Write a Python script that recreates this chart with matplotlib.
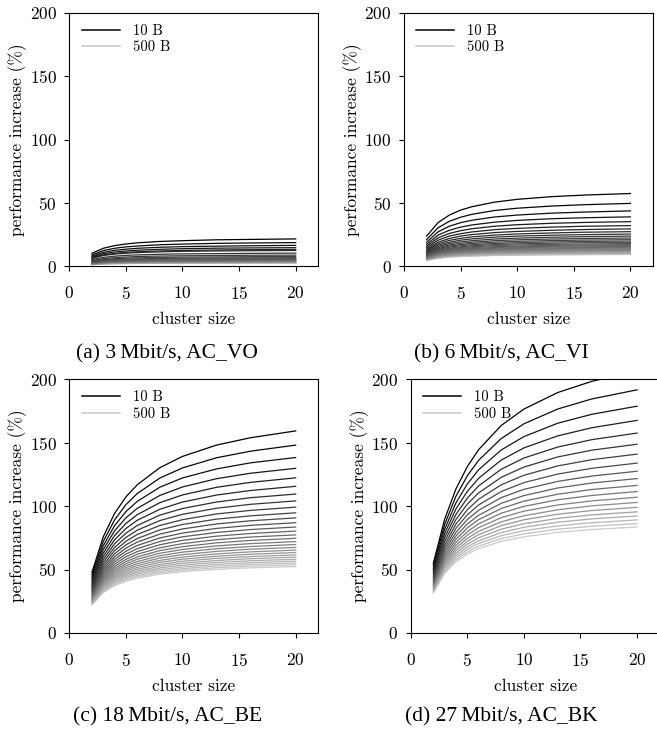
import matplotlib
matplotlib.use("Agg")
import matplotlib.pyplot as plt
from matplotlib.lines import Line2D

# cluster sizes sampled on the x axis
CLUSTER_SIZE = [2, 3, 4, 5, 6, 8, 10, 13, 16, 20]

# performance increase (%), one row per payload size, from 10 B (first) to 500 B (last)
VO_3MBIT = [
    [10.3, 14.2, 16.3, 17.6, 18.5, 19.6, 20.2, 20.9, 21.2, 21.6],
    [9.0, 12.4, 14.2, 15.3, 16.0, 17.0, 17.5, 18.1, 18.4, 18.7],
    [8.0, 11.0, 12.6, 13.5, 14.2, 15.0, 15.5, 15.9, 16.2, 16.5],
    [7.2, 9.9, 11.3, 12.1, 12.7, 13.4, 13.9, 14.3, 14.5, 14.7],
    [6.6, 9.0, 10.2, 11.0, 11.5, 12.1, 12.5, 12.9, 13.1, 13.3],
    [6.2, 8.5, 9.6, 10.3, 10.8, 11.4, 11.8, 12.1, 12.3, 12.5],
    [5.2, 7.0, 8.0, 8.6, 9.0, 9.5, 9.8, 10.0, 10.2, 10.4],
    [4.5, 6.0, 6.8, 7.3, 7.7, 8.1, 8.3, 8.5, 8.7, 8.8],
    [3.9, 5.3, 6.0, 6.4, 6.7, 7.0, 7.2, 7.4, 7.6, 7.7],
    [3.5, 4.7, 5.3, 5.7, 5.9, 6.2, 6.4, 6.6, 6.7, 6.8],
    [3.1, 4.2, 4.8, 5.1, 5.3, 5.6, 5.8, 5.9, 6.0, 6.1],
    [2.8, 3.8, 4.3, 4.6, 4.8, 5.1, 5.2, 5.4, 5.5, 5.5],
    [2.6, 3.5, 4.0, 4.2, 4.4, 4.7, 4.8, 4.9, 5.0, 5.1],
    [2.4, 3.2, 3.7, 3.9, 4.1, 4.3, 4.4, 4.5, 4.6, 4.7],
    [2.2, 3.0, 3.4, 3.6, 3.8, 4.0, 4.1, 4.2, 4.3, 4.3],
    [2.1, 2.8, 3.2, 3.4, 3.5, 3.7, 3.8, 3.9, 4.0, 4.0],
    [2.0, 2.6, 3.0, 3.2, 3.3, 3.5, 3.6, 3.7, 3.7, 3.8],
    [1.8, 2.5, 2.8, 3.0, 3.1, 3.3, 3.4, 3.5, 3.5, 3.6],
    [1.7, 2.3, 2.6, 2.8, 2.9, 3.1, 3.2, 3.3, 3.3, 3.4],
    [1.6, 2.2, 2.5, 2.7, 2.8, 2.9, 3.0, 3.1, 3.1, 3.2],
    [1.6, 2.1, 2.4, 2.5, 2.6, 2.8, 2.8, 2.9, 3.0, 3.0],
    [1.5, 2.0, 2.3, 2.4, 2.5, 2.6, 2.7, 2.8, 2.8, 2.9],
    [1.4, 1.9, 2.2, 2.3, 2.4, 2.5, 2.6, 2.7, 2.7, 2.7],
    [1.4, 1.8, 2.1, 2.2, 2.3, 2.4, 2.5, 2.5, 2.6, 2.6],
    [1.3, 1.7, 2.0, 2.1, 2.2, 2.3, 2.4, 2.4, 2.5, 2.5],
]
VI_6MBIT = [
    [23.8, 34.4, 40.4, 44.3, 47.0, 50.6, 52.8, 54.9, 56.2, 57.4],
    [21.1, 30.3, 35.5, 38.7, 41.0, 44.0, 45.8, 47.5, 48.6, 49.6],
    [19.0, 27.1, 31.6, 34.4, 36.3, 38.9, 40.4, 41.9, 42.8, 43.7],
    [17.3, 24.5, 28.4, 30.9, 32.6, 34.8, 36.2, 37.5, 38.3, 39.0],
    [15.9, 22.4, 25.9, 28.1, 29.6, 31.6, 32.8, 33.9, 34.6, 35.2],
    [14.7, 20.6, 23.8, 25.7, 27.1, 28.9, 29.9, 30.9, 31.6, 32.1],
    [13.6, 19.0, 21.9, 23.8, 25.0, 26.6, 27.5, 28.4, 29.0, 29.5],
    [12.7, 17.7, 20.4, 22.0, 23.2, 24.6, 25.5, 26.3, 26.9, 27.3],
    [11.9, 16.6, 19.0, 20.6, 21.6, 23.0, 23.8, 24.5, 25.0, 25.4],
    [11.2, 15.6, 17.9, 19.3, 20.2, 21.5, 22.2, 22.9, 23.4, 23.8],
    [10.6, 14.7, 16.8, 18.1, 19.0, 20.2, 20.9, 21.5, 21.9, 22.3],
    [10.1, 13.9, 15.9, 17.1, 18.0, 19.0, 19.7, 20.3, 20.7, 21.0],
    [9.6, 13.2, 15.1, 16.2, 17.0, 18.0, 18.6, 19.2, 19.6, 19.9],
    [9.1, 12.5, 14.3, 15.4, 16.2, 17.1, 17.7, 18.2, 18.6, 18.8],
    [8.7, 11.9, 13.6, 14.7, 15.4, 16.3, 16.8, 17.3, 17.6, 17.9],
    [8.3, 11.4, 13.0, 14.0, 14.7, 15.5, 16.0, 16.5, 16.8, 17.1],
    [8.0, 10.9, 12.5, 13.4, 14.0, 14.8, 15.3, 15.8, 16.1, 16.3],
    [7.7, 10.5, 11.9, 12.8, 13.4, 14.2, 14.7, 15.1, 15.4, 15.6],
    [7.4, 10.1, 11.5, 12.3, 12.9, 13.6, 14.1, 14.5, 14.8, 15.0],
    [7.1, 9.7, 11.0, 11.8, 12.4, 13.1, 13.5, 13.9, 14.2, 14.4],
    [6.8, 9.3, 10.6, 11.4, 11.9, 12.6, 13.0, 13.4, 13.6, 13.8],
    [6.6, 9.0, 10.2, 11.0, 11.5, 12.2, 12.5, 12.9, 13.1, 13.3],
    [6.4, 8.7, 9.9, 10.6, 11.1, 11.7, 12.1, 12.5, 12.7, 12.9],
    [6.2, 8.4, 9.6, 10.3, 10.7, 11.3, 11.7, 12.0, 12.2, 12.4],
    [6.0, 8.1, 9.3, 9.9, 10.4, 11.0, 11.3, 11.6, 11.8, 12.0],
    [5.8, 7.9, 9.0, 9.6, 10.1, 10.6, 11.0, 11.3, 11.5, 11.6],
    [5.6, 7.7, 8.7, 9.3, 9.8, 10.3, 10.6, 10.9, 11.1, 11.3],
    [5.5, 7.4, 8.4, 9.1, 9.5, 10.0, 10.3, 10.6, 10.8, 10.9],
    [5.3, 7.2, 8.2, 8.8, 9.2, 9.7, 10.0, 10.3, 10.5, 10.6],
    [5.2, 7.0, 8.0, 8.5, 8.9, 9.4, 9.7, 10.0, 10.2, 10.3],
    [5.0, 6.8, 7.8, 8.3, 8.7, 9.2, 9.5, 9.7, 9.9, 10.0],
    [4.9, 6.7, 7.6, 8.1, 8.5, 8.9, 9.2, 9.5, 9.6, 9.8],
    [4.8, 6.5, 7.4, 7.9, 8.2, 8.7, 9.0, 9.2, 9.4, 9.5],
    [4.7, 6.3, 7.2, 7.7, 8.0, 8.5, 8.7, 9.0, 9.1, 9.3],
]
BE_18MBIT = [
    [47.8, 75.8, 94.2, 107.2, 116.8, 130.3, 139.2, 148.1, 153.9, 159.3],
    [45.8, 72.1, 89.1, 101.1, 109.9, 122.1, 130.1, 138.1, 143.3, 148.1],
    [44.0, 68.7, 84.6, 95.6, 103.7, 114.9, 122.2, 129.3, 134.1, 138.3],
    [42.3, 65.7, 80.5, 90.7, 98.2, 108.4, 115.1, 121.6, 125.9, 129.8],
    [40.7, 62.9, 76.8, 86.3, 93.2, 102.7, 108.8, 114.8, 118.7, 122.3],
    [39.3, 60.3, 73.4, 82.3, 88.8, 97.5, 103.2, 108.7, 112.3, 115.6],
    [38.0, 57.9, 70.3, 78.6, 84.7, 92.9, 98.1, 103.2, 106.6, 109.5],
    [36.7, 55.8, 67.4, 75.3, 81.0, 88.6, 93.5, 98.3, 101.4, 104.1],
    [35.5, 53.7, 64.8, 72.2, 77.6, 84.7, 89.3, 93.8, 96.6, 99.2],
    [34.4, 51.8, 62.4, 69.4, 74.4, 81.2, 85.5, 89.7, 92.3, 94.7],
    [33.4, 50.1, 60.1, 66.8, 71.6, 77.9, 82.0, 85.9, 88.4, 90.7],
    [32.4, 48.4, 58.0, 64.4, 68.9, 74.9, 78.7, 82.4, 84.8, 86.9],
    [31.5, 46.9, 56.1, 62.1, 66.4, 72.1, 75.8, 79.2, 81.5, 83.5],
    [30.6, 45.5, 54.2, 60.0, 64.1, 69.5, 73.0, 76.3, 78.4, 80.3],
    [29.8, 44.1, 52.5, 58.0, 62.0, 67.1, 70.4, 73.5, 75.6, 77.3],
    [29.0, 42.8, 50.9, 56.2, 59.9, 64.9, 68.0, 71.0, 72.9, 74.6],
    [28.3, 41.6, 49.4, 54.5, 58.1, 62.8, 65.8, 68.6, 70.4, 72.0],
    [27.6, 40.5, 48.0, 52.9, 56.3, 60.8, 63.7, 66.4, 68.1, 69.7],
    [26.9, 39.4, 46.6, 51.3, 54.6, 59.0, 61.7, 64.3, 66.0, 67.4],
    [26.3, 38.4, 45.3, 49.9, 53.1, 57.2, 59.8, 62.3, 63.9, 65.3],
    [25.7, 37.4, 44.1, 48.5, 51.6, 55.6, 58.1, 60.5, 62.0, 63.4],
    [25.1, 36.5, 43.0, 47.2, 50.2, 54.0, 56.5, 58.8, 60.2, 61.5],
    [24.5, 35.6, 41.9, 46.0, 48.8, 52.6, 54.9, 57.1, 58.5, 59.8],
    [24.0, 34.8, 40.9, 44.8, 47.6, 51.2, 53.4, 55.6, 56.9, 58.1],
    [23.5, 34.0, 39.9, 43.7, 46.4, 49.9, 52.0, 54.1, 55.4, 56.6],
    [23.0, 33.2, 39.0, 42.7, 45.3, 48.6, 50.7, 52.7, 54.0, 55.1],
    [22.5, 32.5, 38.1, 41.7, 44.2, 47.4, 49.5, 51.4, 52.6, 53.7],
    [22.1, 31.8, 37.2, 40.7, 43.1, 46.3, 48.3, 50.1, 51.3, 52.3],
]
BK_27MBIT = [
    [54.9, 89.7, 113.6, 131.1, 144.5, 163.6, 176.5, 189.6, 198.4, 206.5],
    [52.9, 85.6, 107.8, 123.9, 136.1, 153.3, 164.9, 176.6, 184.5, 191.7],
    [51.0, 81.8, 102.6, 117.4, 128.6, 144.3, 154.8, 165.4, 172.4, 178.8],
    [49.2, 78.4, 97.8, 111.6, 121.9, 136.3, 145.9, 155.4, 161.8, 167.6],
    [47.5, 75.2, 93.4, 106.3, 115.9, 129.1, 137.9, 146.6, 152.4, 157.6],
    [45.9, 72.3, 89.5, 101.5, 110.4, 122.7, 130.8, 138.8, 144.1, 148.8],
    [44.5, 69.6, 85.8, 97.1, 105.4, 116.8, 124.3, 131.7, 136.6, 141.0],
    [43.1, 67.1, 82.5, 93.1, 100.9, 111.5, 118.5, 125.3, 129.8, 133.9],
    [41.8, 64.8, 79.3, 89.4, 96.7, 106.7, 113.2, 119.5, 123.7, 127.5],
    [40.6, 62.6, 76.5, 85.9, 92.8, 102.2, 108.3, 114.3, 118.2, 121.7],
    [39.5, 60.6, 73.8, 82.8, 89.3, 98.1, 103.9, 109.4, 113.1, 116.3],
    [38.4, 58.7, 71.3, 79.8, 86.0, 94.4, 99.8, 105.0, 108.4, 111.5],
    [37.4, 56.9, 68.9, 77.1, 83.0, 90.9, 96.0, 100.9, 104.1, 107.0],
    [36.4, 55.2, 66.8, 74.5, 80.1, 87.6, 92.4, 97.1, 100.2, 102.9],
    [35.5, 53.7, 64.7, 72.1, 77.5, 84.6, 89.2, 93.6, 96.5, 99.0],
    [34.6, 52.2, 62.8, 69.9, 75.0, 81.8, 86.1, 90.3, 93.1, 95.5],
    [33.8, 50.7, 60.9, 67.8, 72.6, 79.1, 83.3, 87.3, 89.9, 92.2],
    [33.0, 49.4, 59.2, 65.8, 70.5, 76.7, 80.6, 84.4, 86.9, 89.1],
    [32.2, 48.1, 57.6, 63.9, 68.4, 74.4, 78.1, 81.8, 84.1, 86.2],
    [31.5, 46.9, 56.1, 62.1, 66.4, 72.2, 75.8, 79.3, 81.5, 83.5],
]

PANELS = [VO_3MBIT, VI_6MBIT, BE_18MBIT, BK_27MBIT]
CAPTIONS = ["(a) 3\u2009Mbit/s, AC_VO", "(b) 6\u2009Mbit/s, AC_VI",
            "(c) 18\u2009Mbit/s, AC_BE", "(d) 27\u2009Mbit/s, AC_BK"]
LEGEND = ["10 B", "500 B"]

plt.rcParams["font.family"] = "cmr10"
plt.rcParams["axes.formatter.use_mathtext"] = True

W, H = 657, 733
fig = plt.figure(figsize=(W / 100, H / 100), dpi=100)

# axes corners in pixels (left, top); panel (d) runs past the right edge like the original
corners = [(69.3, 12.7), (404, 12.7), (69.3, 379.3), (410.7, 379.3)]
for rows, (x0, y0) in zip(PANELS, corners):
    ax = fig.add_axes([x0 / W, 1 - (y0 + 253.6) / H, 249 / W, 253.6 / H])
    N = len(rows)
    for i, row in enumerate(rows):
        g = 0.8 * i / (N - 1)
        ax.plot(CLUSTER_SIZE, row, color=(g, g, g), lw=0.9, zorder=N - i)
    ax.set_xlim(0, 22)
    ax.set_ylim(0, 200)
    ax.set_xticks([0, 5, 10, 15, 20])
    ax.set_yticks([0, 50, 100, 150, 200])
    ax.tick_params(direction="out", length=3.5, width=0.8, labelsize=12.5)
    ax.tick_params(axis="x", pad=10)
    ax.tick_params(axis="y", pad=5.5)
    for s in ax.spines.values():
        s.set_linewidth(0.8)
    ax.set_xlabel("cluster size", fontsize=12.5, labelpad=7)
    ax.set_ylabel("performance increase (%)", fontsize=12.5, labelpad=1.7)
    handles = [Line2D([], [], color="black", lw=1.1), Line2D([], [], color="#c8c8c8", lw=1.1)]
    ax.legend(handles, LEGEND, loc="upper left", bbox_to_anchor=(0.05, 0.955),
              frameon=False, fontsize=10.5, handlelength=2.6, handletextpad=0.9,
              labelspacing=0.2, borderpad=0, borderaxespad=0)

capxy = [(0.2537, 0.517), (0.7636, 0.517), (0.255, 0.0222), (0.7636, 0.0222)]
for (cx, cy), cap in zip(capxy, CAPTIONS):
    fig.text(cx, cy, cap, ha="center", va="center", fontsize=15.5,
             family=["Liberation Serif", "DejaVu Serif"])

fig.savefig("out.png", dpi=100)
